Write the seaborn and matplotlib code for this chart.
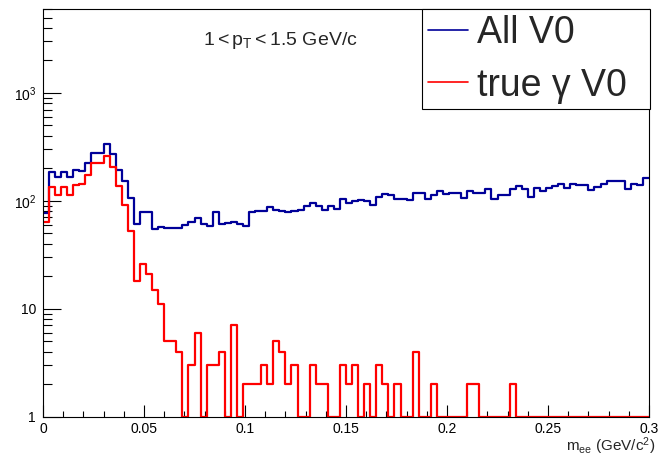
import numpy as np
import matplotlib
matplotlib.use("Agg")
import matplotlib.pyplot as plt
from matplotlib.lines import Line2D
from matplotlib.ticker import FixedLocator, MultipleLocator, NullFormatter, LogLocator
import pandas as pd
import seaborn as sns

# Binning of the dielectron invariant mass (GeV/c^2): 100 bins over 0-0.3
mass_range = (0.0, 0.3)
n_bins = 100

# Counts per bin for all V0 candidates
all_v0 = [
    77, 183, 167, 183, 167, 191, 187, 222, 278, 278,
    335, 269, 192, 152, 106, 61, 78, 78, 55, 57,
    56, 56, 56, 60, 63, 69, 61, 59, 78, 61,
    62, 63, 61, 59, 78, 80, 80, 87, 82, 80,
    78, 80, 82, 90, 95, 90, 82, 90, 84, 104,
    96, 99, 102, 99, 91, 108, 116, 113, 105, 103,
    101, 118, 118, 103, 112, 123, 116, 119, 119, 106,
    124, 119, 119, 128, 104, 112, 112, 129, 137, 129,
    108, 132, 122, 130, 136, 143, 130, 142, 140, 140,
    125, 135, 143, 154, 154, 154, 128, 142, 139, 163,
]

# Counts per bin for V0 candidates matched to a true photon conversion
true_gamma_v0 = [
    64, 133, 114, 133, 114, 139, 144, 174, 222, 222,
    259, 205, 136, 92, 52, 18, 26, 21, 15, 11,
    5, 5, 4, 0, 3, 6, 0, 3, 3, 4,
    0, 7, 0, 2, 2, 2, 3, 2, 5, 4,
    2, 3, 0, 0, 3, 2, 2, 0, 0, 3,
    2, 3, 0, 2, 0, 3, 2, 0, 2, 0,
    0, 4, 0, 0, 2, 0, 0, 0, 0, 0,
    2, 2, 0, 0, 0, 0, 0, 2, 0, 0,
    0, 0, 0, 0, 0, 0, 0, 0, 0, 0,
    0, 0, 0, 0, 0, 0, 0, 0, 0, 0,
]

series_labels = ["All V0", "true \u03b3 V0"]
series_colors = ["#000099", "#ff0000"]

x_tick_values = [0, 0.05, 0.1, 0.15, 0.2, 0.25, 0.3]
x_tick_labels = ["0", "0.05", "0.1", "0.15", "0.2", "0.25", "0.3"]
y_tick_values = [1, 10, 100, 1000]
y_tick_labels = ["1", "10", r"$\mathregular{10^{2}}$", r"$\mathregular{10^{3}}$"]
y_limits = (1, 6000)

sns.set_style("ticks")
plt.rcParams["font.family"] = ["Liberation Sans", "DejaVu Sans"]
plt.rcParams["mathtext.fontset"] = "custom"
plt.rcParams["mathtext.rm"] = "Liberation Sans"
plt.rcParams["mathtext.it"] = "Liberation Sans:italic"
plt.rcParams["mathtext.bf"] = "Liberation Sans:bold"

W, H = 660, 457
fig = plt.figure(figsize=(W / 100, H / 100), dpi=100)
fig.patch.set_facecolor("white")
ax = fig.add_axes([43 / W, 1 - 416.5 / H, 606 / W, 407.5 / H])
ax.set_facecolor("white")

edges = np.linspace(mass_range[0], mass_range[1], n_bins + 1)
centers = 0.5 * (edges[:-1] + edges[1:])

# empty bins are drawn on the lower edge of the log axis
for counts, color in zip([all_v0, true_gamma_v0], series_colors):
    shown = np.where(np.asarray(counts) > 0, counts, y_limits[0])
    df = pd.DataFrame({"mass": centers, "count": shown})
    sns.histplot(data=df, x="mass", weights="count", bins=n_bins,
                 binrange=mass_range, element="step", fill=False,
                 color=color, linewidth=1.6, ax=ax)

ax.set_yscale("log")
ax.set_xlim(*mass_range)
ax.set_ylim(*y_limits)
ax.set_xlabel("")
ax.set_ylabel("")

ax.xaxis.set_major_locator(FixedLocator(x_tick_values))
ax.set_xticklabels(x_tick_labels)
ax.xaxis.set_minor_locator(MultipleLocator(0.01))
ax.yaxis.set_major_locator(FixedLocator(y_tick_values))
ax.set_yticklabels(y_tick_labels)
ax.yaxis.set_minor_locator(LogLocator(base=10, subs=np.arange(2, 10)))
ax.yaxis.set_minor_formatter(NullFormatter())

ax.tick_params(axis="both", which="both", direction="in", top=False,
               right=False, color="black", width=0.8, labelsize=10,
               labelcolor="black")
ax.tick_params(axis="x", which="major", length=8.8, pad=4)
ax.tick_params(axis="x", which="minor", length=4.4)
ax.tick_params(axis="y", which="major", length=13, pad=5)
ax.tick_params(axis="y", which="minor", length=6.5)
for s in ax.spines.values():
    s.set_visible(True)
    s.set_color("black")
    s.set_linewidth(0.8)

handles = [Line2D([], [], color=c, linewidth=1.2) for c in series_colors]
leg = ax.legend(handles, series_labels, loc="upper left", mode="expand",
                bbox_to_anchor=(422 / W, 1 - 111 / H, 228 / W, 102 / H),
                bbox_transform=fig.transFigure,
                fontsize=27, frameon=True, fancybox=False, framealpha=1,
                edgecolor="black", borderaxespad=0, handlelength=1.07,
                handletextpad=0.25, borderpad=0.15, labelspacing=0.45)
leg.get_frame().set_linewidth(0.8)

fig.text(203 / W, 1 - 45 / H, r"$\mathregular{1<p_{T}<1.5}$ GeV/c",
         fontsize=14, va="baseline", ha="left")
fig.text(655 / W, 1 - 446 / H, r"m$_{\mathregular{ee}}$ (GeV/c$^{\mathregular{2}}$)",
         fontsize=11, va="center", ha="right")

fig.savefig("out.png", dpi=100)
